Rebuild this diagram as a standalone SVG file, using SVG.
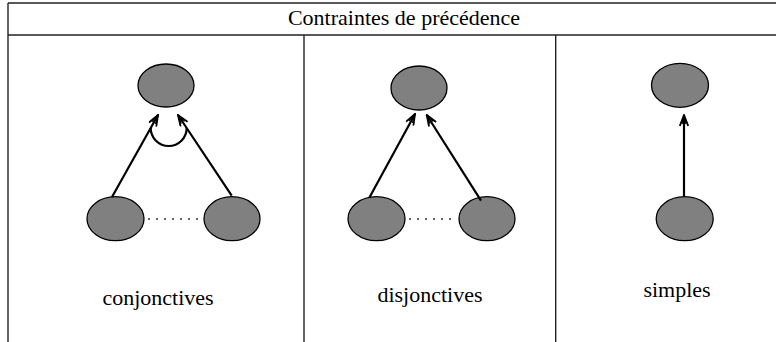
<svg xmlns="http://www.w3.org/2000/svg" width="776" height="342" viewBox="0 0 776 342">
<style>
.frame{stroke:#222;stroke-width:1.4;fill:none}
.node{fill:#808080;stroke:#000;stroke-width:1.3}
.arrow{stroke:#000;stroke-width:2.2;fill:none;marker-end:url(#ah)}
.dots{stroke:#333;stroke-width:1.3;stroke-dasharray:2,6;fill:none}
.arc{stroke:#000;stroke-width:2.2;fill:none}
.lbl{font-family:'Liberation Serif','Times New Roman','DejaVu Serif',serif;font-size:22px;fill:#000;text-anchor:middle}
</style>
<defs>
<marker id="ah" viewBox="0 0 13 10" refX="12" refY="5" markerWidth="13" markerHeight="10" markerUnits="userSpaceOnUse" orient="auto">
<path d="M1,0.8 L12,5 L1,9.2" fill="none" stroke="#000" stroke-width="1.8"/>
<path d="M3,3 L12,5 L3,7" fill="none" stroke="#000" stroke-width="1.2"/>
</marker>
</defs>
<g id="table">
<line class="frame" x1="8" y1="3" x2="776" y2="3"/>
<line class="frame" x1="8" y1="35" x2="776" y2="35"/>
<line class="frame" x1="8" y1="3" x2="8" y2="342"/>
<line class="frame" x1="304" y1="35" x2="304" y2="342"/>
<line class="frame" x1="555.7" y1="35" x2="555.7" y2="342"/>
<text class="lbl" x="404" y="25" font-family="Liberation Serif, serif">Contraintes de précédence</text>
</g>
<g id="conj-top"><ellipse class="node" cx="166" cy="85.5" rx="28" ry="21.5"/></g>
<g id="conj-left"><ellipse class="node" cx="115.5" cy="218.7" rx="28.5" ry="22"/></g>
<g id="conj-right"><ellipse class="node" cx="232" cy="218.7" rx="28" ry="22"/></g>
<g id="disj-top"><ellipse class="node" cx="419" cy="88" rx="28" ry="22"/></g>
<g id="disj-left"><ellipse class="node" cx="376.5" cy="218.7" rx="28.5" ry="22"/></g>
<g id="disj-right"><ellipse class="node" cx="487" cy="218.7" rx="28" ry="22"/></g>
<g id="simp-top"><ellipse class="node" cx="680" cy="85.3" rx="28.5" ry="22"/></g>
<g id="simp-bottom"><ellipse class="node" cx="684.7" cy="218.7" rx="28.5" ry="22"/></g>
<g id="connectors">
<line class="arrow" x1="112" y1="197" x2="158" y2="115"/>
<line class="arrow" x1="231.7" y1="195.7" x2="178" y2="115"/>
<path class="arc" d="M150.7,128 A18,18 0 0,0 186.7,128"/>
<line class="dots" x1="148" y1="219" x2="203" y2="219"/>
<line class="arrow" x1="369.3" y1="197.7" x2="415" y2="114"/>
<line class="arrow" x1="481" y1="200.7" x2="426.7" y2="115"/>
<line class="dots" x1="409" y1="219" x2="457" y2="219"/>
<line class="arrow" x1="684" y1="196.7" x2="684" y2="115"/>
</g>
<g id="labels">
<text class="lbl" x="158" y="305" font-family="Liberation Serif, serif">conjonctives</text>
<text class="lbl" x="430" y="301.5" font-family="Liberation Serif, serif">disjonctives</text>
<text class="lbl" x="677" y="297" font-family="Liberation Serif, serif">simples</text>
</g>
</svg>
